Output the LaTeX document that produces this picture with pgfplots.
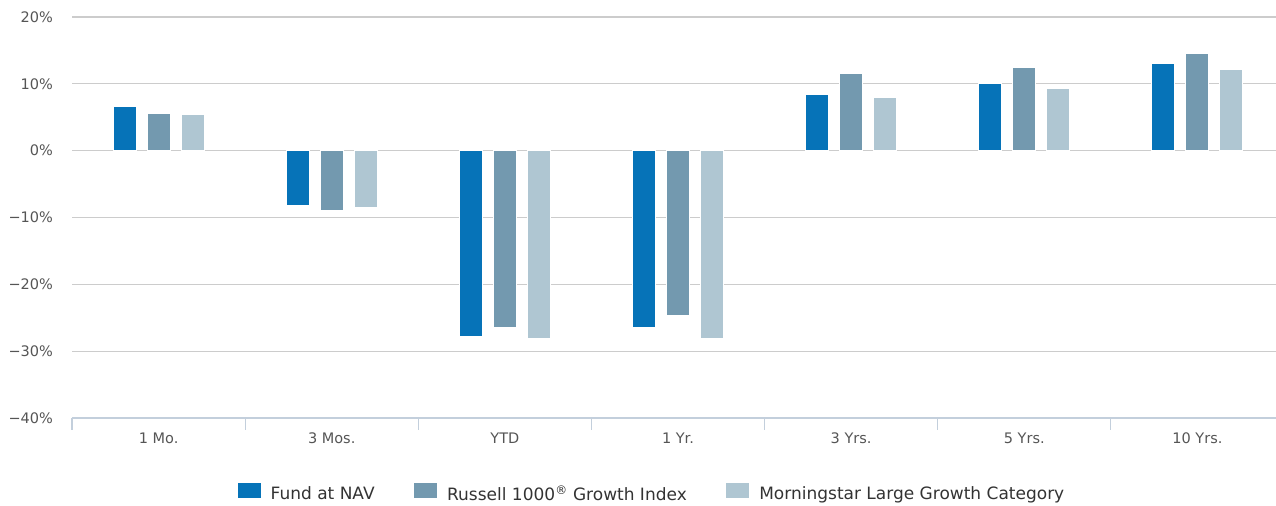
\documentclass[border=0pt]{standalone}
\usepackage{pgfplots}
\pgfplotsset{compat=1.18}
\usepackage{fontspec}
\setmainfont{DejaVu Sans}
\definecolor{fundc}{HTML}{0673B8}
\definecolor{russc}{HTML}{7399AF}
\definecolor{mornc}{HTML}{AFC6D2}
\definecolor{gridc}{HTML}{CCCCCC}
\definecolor{axc}{HTML}{C3CFDC}
\definecolor{tickc}{HTML}{555555}
\definecolor{textc}{HTML}{333333}
\begin{document}
\begin{tikzpicture}
\begin{axis}[name=ax, scale only axis, width=1212pt, height=401pt,
 xmin=-0.5, xmax=6.5, ymin=-40, ymax=20,
 ybar=11pt, bar width=23pt,
 axis x line=bottom, axis y line=left,
 y axis line style={draw=none},
 x axis line style={-, draw=axc, line width=1.2pt},
 xtick={0,...,6}, xticklabels={1 Mo.,3 Mos.,YTD,1 Yr.,3 Yrs.,5 Yrs.,10 Yrs.},
 minor xtick={-0.5,0.5,...,6.5},
 major tick length=0pt, minor tick length=12pt, tick align=outside,
 minor tick style={draw=axc, line width=1.2pt},
 major tick style={draw=none},
 ytick={-40,-30,...,20},
 yticklabels={−40\%,−30\%,−20\%,−10\%,0\%,10\%,20\%},
 ymajorgrids, grid style={draw=gridc, line width=1.3pt},
 tick label style={font=\fontsize{14.5}{16}\selectfont, text=tickc},
 yticklabel style={xshift=-15.5pt},
 xticklabel style={yshift=-11pt},
 legend columns=-1,
 legend style={at={(0.4773,-0.187)}, anchor=center, draw=none, fill=none,
   font=\fontsize{17}{20}\selectfont, text=textc,
   /tikz/every odd column/.append style={column sep=9pt},
   /tikz/every even column/.append style={column sep=38.5pt},
   nodes={inner xsep=0pt}},
 legend image code/.code={\fill[#1] (0pt,-5pt) rectangle (24pt,11pt);},
]
\addplot[fill=fundc, draw=white, line width=1pt] coordinates {(0,6.6)(1,-8.2)(2,-27.8)(3,-26.5)(4,8.4)(5,10.1)(6,13.0)};
\addplot[fill=russc, draw=white, line width=1pt] coordinates {(0,5.6)(1,-8.9)(2,-26.5)(3,-24.6)(4,11.5)(5,12.4)(6,14.6)};
\addplot[fill=mornc, draw=white, line width=1pt] coordinates {(0,5.4)(1,-8.5)(2,-28.1)(3,-28.1)(4,8.0)(5,9.3)(6,12.2)};
\legend{Fund at NAV, Russell 1000\textsuperscript{®} Growth Index, Morningstar Large Growth Category}
\end{axis}
\pgfresetboundingbox
\path ([xshift=-72pt,yshift=-88pt]ax.south west) rectangle ([xshift=-8pt,yshift=17pt]ax.north east);
\end{tikzpicture}
\end{document}
